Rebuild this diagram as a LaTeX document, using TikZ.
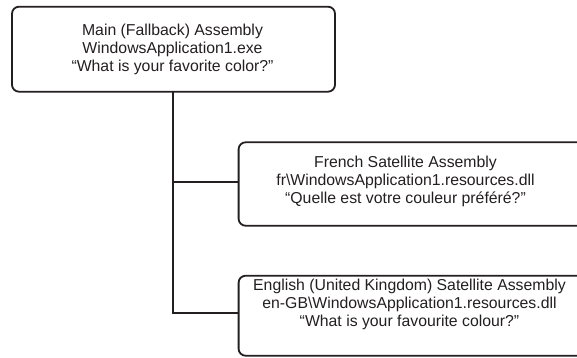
\documentclass[tikz,border=0pt]{standalone}
\usepackage{fontspec}
\setmainfont{Liberation Sans}
\definecolor{ink}{HTML}{231F20}
\begin{document}
\begin{tikzpicture}[x=1pt,y=-1pt,
  box/.style={draw=ink,line width=1.8pt,rounded corners=7pt,inner sep=0pt},
  txt/.style={text=ink,align=center,inner sep=0pt,font=\fontsize{15.8}{18}\selectfont},
  conn/.style={draw=ink,line width=1.8pt}]
\useasboundingbox (0,0) rectangle (577,357);
\begin{scope}
\clip (0,0) rectangle (577,357);
\node[box,minimum width=323pt,minimum height=85pt] (main) at (173.5,49.2) {};
\node[box,minimum width=380pt,minimum height=83.4pt,anchor=west] (fr) at (237.7,184) {};
\node[box,minimum width=380pt,minimum height=80pt,anchor=west] (en) at (237.7,315.7) {};
\node[txt] (maint) at (172.5,49) {Main (Fallback) Assembly\\WindowsApplication1.exe\\“What is your favorite color?”};
\node[txt] (frt) at (405.5,181) {French Satellite Assembly\\fr\textbackslash WindowsApplication1.resources.dll\\“Quelle est votre couleur préféré?”};
\node[txt] (ent) at (409.5,304) {English (United Kingdom) Satellite Assembly\\en-GB\textbackslash WindowsApplication1.resources.dll\\“What is your favourite colour?”};
\coordinate (top) at (172.7,91.7);
\coordinate (jfr) at (172.7,182.3);
\coordinate (jen) at (172.7,313.3);
\draw[conn] (top) -- (jen) -- (jen -| en.west);
\draw[conn] (jfr) -- (jfr -| fr.west);
\end{scope}
\end{tikzpicture}
\end{document}
